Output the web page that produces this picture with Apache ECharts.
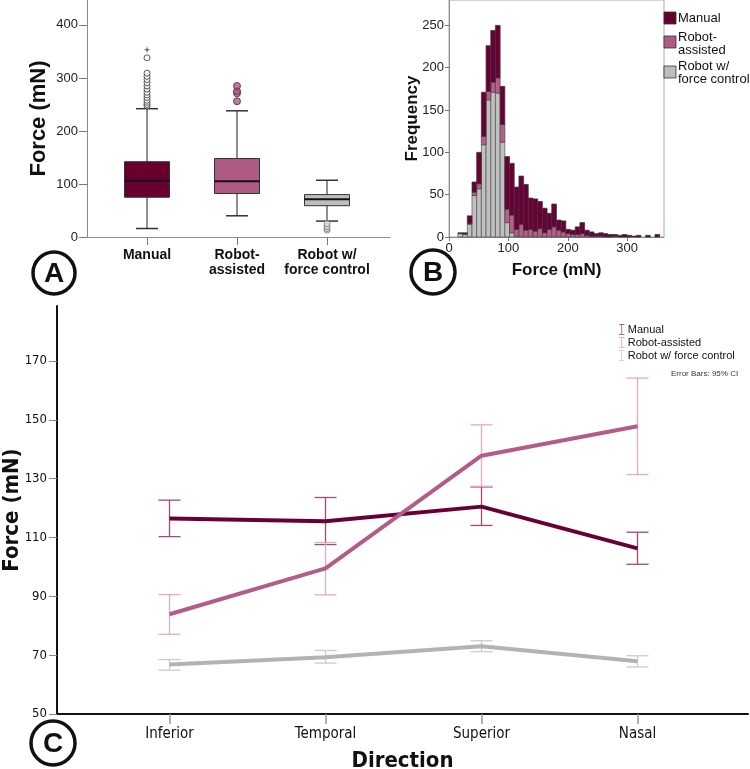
<!DOCTYPE html>
<html>
<head>
<meta charset="utf-8">
<script src="https://cdn.jsdelivr.net/npm/echarts@6/dist/echarts.min.js"></script>
<style>
html, body { margin: 0; padding: 0; background: #fff; }
#main { width: 750px; height: 769px; }
</style>
</head>
<body>
<div id="main"></div>
<script>
// ---- panel A: box plots (min, Q1, median, Q3, max) ----
var boxGroups = ['Manual', 'Robot-\nassisted', 'Robot w/\nforce control'];
var boxManual = [16, 75, 106, 142, 242];
var boxRobot = [40, 82, 105, 148, 238];
var boxForce = [30, 59, 71, 80, 107];
var outManual = [247, 250, 254, 258, 263, 268, 273, 279, 285, 291, 297, 303, 309, 338];
var extremeManual = [353];
var outRobot = [256, 271, 275, 285];
var outForce = [13, 16, 20, 25];
var boxTicks = [0, 100, 200, 300, 400];

// ---- panel B: stacked histogram (bin midpoints, counts per group) ----
var binMids = [18.95, 26.85, 34.75, 42.65, 50.55, 58.45, 66.35, 74.25, 82.15, 90.05,
    97.95, 105.85, 113.75, 121.65, 129.55, 137.45, 145.35, 153.25, 161.15, 169.05,
    176.95, 184.85, 192.75, 200.65, 208.55, 216.45, 224.35, 232.25, 240.15, 248.05,
    255.95, 263.85, 271.75, 279.65, 287.55, 295.45, 303.35, 311.25, 319.15, 327.05,
    334.95, 342.85, 350.75];
var histForce = [4, 3, 15, 49, 57, 109, 162, 171, 170, 112,
    17, 5, 1, 0, 0, 0, 0, 0, 0, 0,
    0, 0, 0, 0, 0, 0, 0, 0, 0, 0,
    0, 0, 0, 0, 0, 0, 0, 0, 0, 0,
    0, 0, 0];
var histRobot = [0, 1, 1, 4, 6, 10, 10, 12, 18, 21,
    16, 21, 8, 15, 8, 9, 7, 10, 5, 9,
    12, 8, 6, 4, 3, 3, 4, 2, 1, 1,
    1, 0, 0, 1, 0, 0, 0, 0, 0, 0,
    0, 0, 0];
var histManual = [1, 1, 9, 12, 37, 52, 54, 61, 62, 45,
    62, 61, 50, 57, 54, 37, 38, 32, 29, 19,
    27, 12, 13, 5, 5, 9, 13, 6, 5, 3,
    4, 4, 3, 2, 2, 3, 2, 1, 2, 0,
    2, 0, 3];
var freqTicks = [0, 50, 100, 150, 200, 250];
var forceTicks = [0, 100, 200, 300];

// ---- panel C: means with 95% CI ----
var directions = ['Inferior', 'Temporal', 'Superior', 'Nasal'];
var meanManual = [116.5, 115.5, 120.5, 106.3];
var ciManual = [[110.3, 122.7], [107.6, 123.6], [114.1, 127.2], [100.9, 111.8]];
var meanRobot = [83.9, 99.5, 137.8, 147.8];
var ciRobot = [[77.1, 90.6], [90.5, 108.3], [127.4, 148.3], [131.4, 164.2]];
var meanForce = [66.8, 69.3, 73.0, 67.9];
var ciForce = [[64.9, 68.5], [67.3, 71.6], [71.2, 74.9], [66.0, 69.8]];
var cTicks = [50, 70, 90, 110, 130, 150, 170];

var myChart = echarts.init(document.getElementById('main'), null, {renderer: 'canvas'});

var sans = "'Liberation Sans', Arial, sans-serif";
var narrow = "'Liberation Sans Narrow', 'DejaVu Sans Condensed', sans-serif";
var colManual = '#67002f', colRobot = '#ae5a82', colForce = '#bdbdbd';
var boxColors = [colManual, colRobot, colForce];
var iBeam = 'path://M0,0H7V1H4V13H7V14H0V13H3V1H0Z';

function renderBox(params, api) {
    var x = api.value(0);
    var lo = api.coord([x, api.value(1)]);
    var q1 = api.coord([x, api.value(2)]);
    var med = api.coord([x, api.value(3)]);
    var q3 = api.coord([x, api.value(4)]);
    var hi = api.coord([x, api.value(5)]);
    var cx = lo[0], bw = 45, cw = 22;
    return {
        type: 'group',
        children: [
            {type: 'line', shape: {x1: cx, y1: hi[1], x2: cx, y2: lo[1]}, style: {stroke: '#444', lineWidth: 1.2}},
            {type: 'line', shape: {x1: cx - cw / 2, y1: hi[1], x2: cx + cw / 2, y2: hi[1]}, style: {stroke: '#333', lineWidth: 1.5}},
            {type: 'line', shape: {x1: cx - cw / 2, y1: lo[1], x2: cx + cw / 2, y2: lo[1]}, style: {stroke: '#333', lineWidth: 1.5}},
            {type: 'rect', shape: {x: cx - bw / 2, y: q3[1], width: bw, height: q1[1] - q3[1]},
                style: {fill: boxColors[params.dataIndex], stroke: '#333', lineWidth: 1}},
            {type: 'line', shape: {x1: cx - bw / 2, y1: med[1], x2: cx + bw / 2, y2: med[1]}, style: {stroke: '#111', lineWidth: 2}}
        ]
    };
}

// histogram bin drawn between its midpoint +- half the bin spacing
var binHalf = (binMids[1] - binMids[0]) / 2;
function histBar(color, border) {
    return function (params, api) {
        var x = api.value(0), base = api.value(1), top = api.value(2);
        if (top <= base) return null;
        var p0 = api.coord([x - binHalf, top]);
        var p1 = api.coord([x + binHalf, base]);
        return {
            type: 'rect',
            shape: {x: p0[0], y: p0[1], width: p1[0] - p0[0], height: p1[1] - p0[1]},
            style: {fill: color, stroke: border, lineWidth: 0.7}
        };
    };
}

function errorBar(color) {
    return function (params, api) {
        var x = api.value(0);
        var lo = api.coord([x, api.value(1)]);
        var hi = api.coord([x, api.value(2)]);
        var half = 11;
        var st = {stroke: color, lineWidth: 1.3};
        return {
            type: 'group',
            children: [
                {type: 'line', shape: {x1: lo[0], y1: lo[1], x2: hi[0], y2: hi[1]}, style: st},
                {type: 'line', shape: {x1: lo[0] - half, y1: lo[1], x2: lo[0] + half, y2: lo[1]}, style: st},
                {type: 'line', shape: {x1: hi[0] - half, y1: hi[1], x2: hi[0] + half, y2: hi[1]}, style: st}
            ]
        };
    };
}

function outlierData(idx, arr) {
    return arr.map(function (v) { return [idx, v]; });
}
function ciData(ci) {
    return ci.map(function (c, i) { return [i, c[0], c[1]]; });
}
function meanData(arr) {
    return arr.map(function (v, i) { return [i, v]; });
}
// stack: [mid, base, top]
function stackData(layers, k) {
    return binMids.map(function (m, i) {
        var base = 0;
        for (var j = 0; j < k; j++) base += layers[j][i];
        return [m, base, base + layers[k][i]];
    });
}
var histLayers = [histForce, histRobot, histManual];

var grayAxis = {onZero: false, lineStyle: {color: '#8c8c8c', width: 1}};

var option = {
    backgroundColor: '#fff',
    animation: false,
    title: {
        text: 'Error Bars: 95% CI',
        left: 666,
        top: 365,
        textStyle: {fontSize: 8, fontWeight: 'normal', color: '#333', fontFamily: sans}
    },
    legend: {
        selectedMode: false,
        orient: 'vertical',
        left: 614,
        top: 319,
        itemWidth: 6,
        itemHeight: 11,
        itemGap: 2,
        textStyle: {fontSize: 11, color: '#111', fontFamily: sans, padding: [0, 0, 0, -2]},
        data: [
            {name: 'Manual', icon: iBeam, itemStyle: {color: '#a24a72', borderWidth: 0}},
            {name: 'Robot-assisted', icon: iBeam, itemStyle: {color: '#dda0be', borderWidth: 0}},
            {name: 'Robot w/ force control', icon: iBeam, itemStyle: {color: '#cccccc', borderWidth: 0}}
        ]
    },
    grid: [
        {left: 87, top: 0, width: 303, height: 237, outerBoundsMode: 'none'},
        {left: 449, top: 0, width: 215, height: 237, outerBoundsMode: 'none',
            show: true, borderColor: '#aaa', borderWidth: 1},
        {left: 57, top: 306, width: 691, height: 408, outerBoundsMode: 'none'}
    ],
    xAxis: [
        {
            gridIndex: 0, type: 'value', min: -0.667, max: 2.70,
            axisLine: grayAxis,
            axisTick: {customValues: [0, 1, 2], length: 8, lineStyle: {color: '#777'}},
            axisLabel: {
                customValues: [0, 1, 2], margin: 11,
                formatter: function (v) { return boxGroups[v]; },
                fontSize: 14, fontWeight: 'bold', lineHeight: 15, color: '#111', fontFamily: sans
            },
            splitLine: {show: false}
        },
        {
            gridIndex: 1, type: 'value', min: 0, max: 362,
            name: 'Force (mN)', nameLocation: 'middle', nameGap: 25, nameMoveOverlap: false,
            nameTextStyle: {fontSize: 17, fontWeight: 'bold', color: '#111', fontFamily: sans},
            axisLine: grayAxis,
            axisTick: {customValues: forceTicks, length: 4, lineStyle: {color: '#777'}},
            axisLabel: {customValues: forceTicks, margin: 5, fontSize: 13, color: '#222', fontFamily: sans},
            splitLine: {show: false}
        },
        {
            gridIndex: 2, type: 'value', min: -0.7212, max: 3.7083,
            name: 'Direction', nameLocation: 'middle', nameGap: 36, nameMoveOverlap: false,
            nameTextStyle: {fontSize: 22, fontWeight: 'bold', color: '#111', fontFamily: narrow},
            axisLine: {onZero: false, lineStyle: {color: '#111', width: 2}},
            axisTick: {customValues: [0, 1, 2, 3], length: 10, lineStyle: {color: '#999', width: 1.5}},
            axisLabel: {
                customValues: [0, 1, 2, 3], margin: 13,
                formatter: function (v) { return directions[v]; },
                fontSize: 15, color: '#111', fontFamily: narrow
            },
            splitLine: {show: false}
        }
    ],
    yAxis: [
        {
            gridIndex: 0, type: 'value', min: 0, max: 447,
            name: 'Force (mN)', nameLocation: 'middle', nameGap: 37, nameMoveOverlap: false,
            nameTextStyle: {fontSize: 22, fontWeight: 'bold', color: '#111', fontFamily: sans},
            axisLine: {show: true, onZero: false, lineStyle: {color: '#8c8c8c', width: 1}},
            axisTick: {show: true, customValues: boxTicks, length: 8, lineStyle: {color: '#777'}},
            axisLabel: {customValues: boxTicks, margin: 9, fontSize: 13, color: '#222', fontFamily: sans},
            splitLine: {show: false}
        },
        {
            gridIndex: 1, type: 'value', min: 0, max: 280,
            name: 'Frequency', nameLocation: 'middle', nameGap: 28, nameMoveOverlap: false,
            nameTextStyle: {fontSize: 17, fontWeight: 'bold', color: '#111', fontFamily: sans},
            axisLine: {show: true, onZero: false, lineStyle: {color: '#8c8c8c', width: 1}},
            axisTick: {show: true, customValues: freqTicks, length: 4, lineStyle: {color: '#777'}},
            axisLabel: {customValues: freqTicks, margin: 5, fontSize: 13, color: '#222', fontFamily: sans},
            splitLine: {show: false}
        },
        {
            gridIndex: 2, type: 'value', min: 50, max: 188.7,
            name: 'Force (mN)', nameLocation: 'middle', nameGap: 34, nameMoveOverlap: false,
            nameTextStyle: {fontSize: 22, fontWeight: 'bold', color: '#111', fontFamily: narrow},
            axisLine: {show: true, onZero: false, lineStyle: {color: '#111', width: 2}},
            axisTick: {show: true, customValues: cTicks, length: 8, lineStyle: {color: '#888'}},
            axisLabel: {customValues: cTicks, margin: 10, fontSize: 13, color: '#111', fontFamily: narrow},
            splitLine: {show: false}
        }
    ],
    graphic: [
        // panel letters
        {type: 'circle', shape: {cx: 54, cy: 273, r: 21}, style: {fill: '#fff', stroke: '#111', lineWidth: 3.5}},
        {type: 'text', x: 54, y: 274, style: {text: 'A', fontSize: 28, fontWeight: 'bold', fill: '#111',
            align: 'center', verticalAlign: 'middle', fontFamily: sans}},
        {type: 'circle', shape: {cx: 433, cy: 272, r: 22}, style: {fill: '#fff', stroke: '#111', lineWidth: 3.5}},
        {type: 'text', x: 433, y: 273, style: {text: 'B', fontSize: 28, fontWeight: 'bold', fill: '#111',
            align: 'center', verticalAlign: 'middle', fontFamily: sans}},
        {type: 'circle', shape: {cx: 53, cy: 743, r: 22}, style: {fill: '#fff', stroke: '#111', lineWidth: 3.5}},
        {type: 'text', x: 53, y: 744, style: {text: 'C', fontSize: 28, fontWeight: 'bold', fill: '#111',
            align: 'center', verticalAlign: 'middle', fontFamily: sans}},
        // histogram legend
        {type: 'rect', shape: {x: 664, y: 12, width: 12, height: 12}, style: {fill: colManual, stroke: '#333', lineWidth: 0.8}},
        {type: 'text', x: 678, y: 18, style: {text: 'Manual', fontSize: 13, fill: '#111', verticalAlign: 'middle', fontFamily: sans}},
        {type: 'rect', shape: {x: 664, y: 36, width: 12, height: 12}, style: {fill: colRobot, stroke: '#333', lineWidth: 0.8}},
        {type: 'text', x: 678, y: 31, style: {text: 'Robot-\nassisted', fontSize: 13, lineHeight: 13, fill: '#111', fontFamily: sans}},
        {type: 'rect', shape: {x: 664, y: 66, width: 12, height: 12}, style: {fill: colForce, stroke: '#333', lineWidth: 0.8}},
        {type: 'text', x: 678, y: 60, style: {text: 'Robot w/\nforce control', fontSize: 13, lineHeight: 13, fill: '#111', fontFamily: sans}}
    ],
    series: [
        // A
        {
            name: 'box', type: 'custom', xAxisIndex: 0, yAxisIndex: 0,
            renderItem: renderBox,
            encode: {x: 0, y: [1, 2, 3, 4, 5]},
            data: [[0].concat(boxManual), [1].concat(boxRobot), [2].concat(boxForce)]
        },
        {
            name: 'outManual', type: 'scatter', xAxisIndex: 0, yAxisIndex: 0, symbolSize: 6,
            itemStyle: {color: '#fff', borderColor: '#333', borderWidth: 1},
            data: outlierData(0, outManual)
        },
        {
            name: 'extremeManual', type: 'scatter', xAxisIndex: 0, yAxisIndex: 0, symbolSize: 7,
            symbol: 'path://M5,0L6,4L10,5L6,6L5,10L4,6L0,5L4,4Z',
            itemStyle: {color: '#222'},
            data: outlierData(0, extremeManual)
        },
        {
            name: 'outRobot', type: 'scatter', xAxisIndex: 0, yAxisIndex: 0, symbolSize: 7,
            itemStyle: {color: colRobot, borderColor: '#5a2340', borderWidth: 1},
            data: outlierData(1, outRobot)
        },
        {
            name: 'outForce', type: 'scatter', xAxisIndex: 0, yAxisIndex: 0, symbolSize: 6,
            itemStyle: {color: '#ddd', borderColor: '#777', borderWidth: 1},
            data: outlierData(2, outForce)
        },
        // B
        {
            name: 'Robot w/ force control', type: 'custom', xAxisIndex: 1, yAxisIndex: 1,
            renderItem: histBar('#c0c0c0', '#555'), encode: {x: 0, y: [1, 2]},
            data: stackData(histLayers, 0)
        },
        {
            name: 'Robot-assisted', type: 'custom', xAxisIndex: 1, yAxisIndex: 1,
            renderItem: histBar('#b5608a', '#444'), encode: {x: 0, y: [1, 2]},
            data: stackData(histLayers, 1)
        },
        {
            name: 'Manual', type: 'custom', xAxisIndex: 1, yAxisIndex: 1,
            renderItem: histBar('#6b0036', '#333'), encode: {x: 0, y: [1, 2]},
            data: stackData(histLayers, 2)
        },
        // C error bars
        {
            name: 'ciManual', type: 'custom', xAxisIndex: 2, yAxisIndex: 2,
            renderItem: errorBar('#a24a72'), encode: {x: 0, y: [1, 2]},
            data: ciData(ciManual)
        },
        {
            name: 'ciRobot', type: 'custom', xAxisIndex: 2, yAxisIndex: 2,
            renderItem: errorBar('#e2aac6'), encode: {x: 0, y: [1, 2]},
            data: ciData(ciRobot)
        },
        {
            name: 'ciForce', type: 'custom', xAxisIndex: 2, yAxisIndex: 2,
            renderItem: errorBar('#cccccc'), encode: {x: 0, y: [1, 2]},
            data: ciData(ciForce)
        },
        // C means
        {
            name: 'Manual', type: 'line', xAxisIndex: 2, yAxisIndex: 2, symbol: 'none',
            lineStyle: {color: '#690035', width: 4}, itemStyle: {color: '#690035'},
            data: meanData(meanManual)
        },
        {
            name: 'Robot-assisted', type: 'line', xAxisIndex: 2, yAxisIndex: 2, symbol: 'none',
            lineStyle: {color: '#b45c87', width: 4}, itemStyle: {color: '#b45c87'},
            data: meanData(meanRobot)
        },
        {
            name: 'Robot w/ force control', type: 'line', xAxisIndex: 2, yAxisIndex: 2, symbol: 'none',
            lineStyle: {color: '#b3b3b3', width: 4}, itemStyle: {color: '#b3b3b3'},
            data: meanData(meanForce)
        }
    ]
};
myChart.setOption(option);
</script>
</body>
</html>
